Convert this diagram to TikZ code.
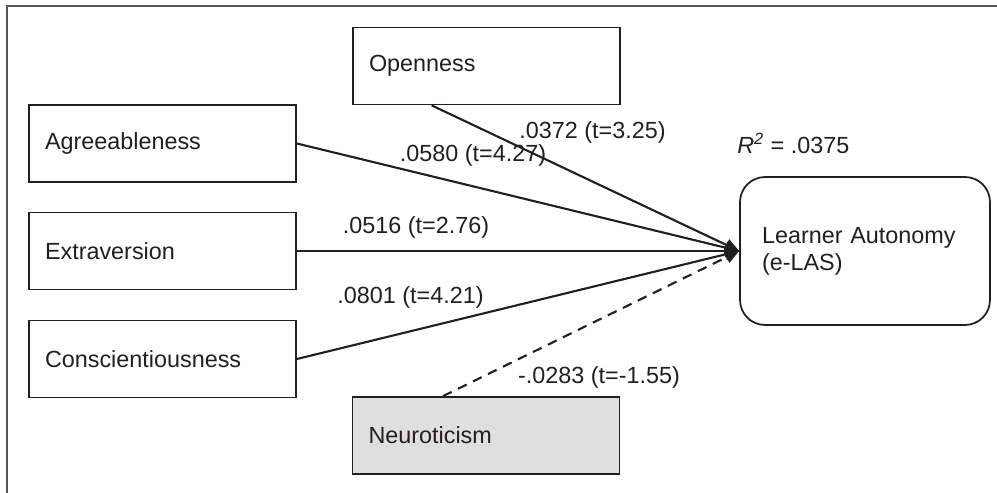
\documentclass[tikz,border=0pt]{standalone}
\usepackage{fontspec}
\setmainfont{Liberation Sans}
\usepackage{tikz}
\usetikzlibrary{arrows.meta, calc}
\definecolor{encre}{HTML}{231F20}
\definecolor{bord}{HTML}{555555}
\definecolor{grisclair}{HTML}{E0DFDF}
\tikzset{
  trait/.style={rectangle, draw=encre, line width=1pt, fill=white, text=encre,
    font=\fontsize{13.3}{15.3}\selectfont, minimum width=5.34cm,
    minimum height=1.54cm, text width=4.7cm, align=left, inner xsep=0.32cm},
  traitgris/.style={trait, fill=grisclair},
  cible/.style={trait, rounded corners=0.5cm, minimum width=5cm,
    minimum height=2.96cm, text width=4.12cm, inner xsep=0.44cm},
  fleche/.style={-{Triangle[length=8pt, width=7pt]}, line width=1.2pt, color=encre},
  flechenonsig/.style={fleche, dash pattern=on 5.5pt off 4pt},
  etiquette/.style={font=\fontsize{13.3}{15.3}\selectfont, text=encre, inner sep=0pt},
  bordure/.style={line width=1.2pt, color=bord}
}

\begin{document}
\begin{tikzpicture}[x=0.02cm, y=-0.02cm]
    \useasboundingbox (0,0) rectangle (997,493);
    % Cadre
    \draw[bordure] (7,493) -- (7,6) -- (997,6);

    % Traits de personnalite
    \node[trait]     (open)  at (486.5, 66)    {Openness};
    \node[trait]     (agree) at (162.5, 143.5) {Agreeableness};
    \node[trait]     (extra) at (162.5, 251)   {Extraversion};
    \node[trait]     (consc) at (162.5, 359)   {Conscientiousness};
    \node[traitgris] (neuro) at (486, 435.5)   {Neuroticism};

    % Variable dependante
    \node[cible] (las) at (865, 251) {Learner Autonomy\\(e-LAS)};
    \node[etiquette, anchor=west] (r2) at (737, 143) {\textit{R}\textsuperscript{\textit{2}} = .0375};

    % Chemins
    \draw[fleche] ($(open.south west)!0.296!(open.south east)$) -- (las.west);
    \draw[fleche] (agree.east) -- (las.west);
    \draw[fleche] (extra.east) -- (las.west);
    \draw[fleche] (consc.east) -- (las.west);
    \draw[flechenonsig] ($(neuro.north west)!0.34!(neuro.north east)$) -- (las.west);

    % Coefficients
    \node[etiquette] (lopen)  at (592.5, 132) {.0372 (t=3.25)};
    \node[etiquette] (lagree) at (473, 155)   {.0580 (t=4.27)};
    \node[etiquette] (lextra) at (416, 227)   {.0516 (t=2.76)};
    \node[etiquette] (lconsc) at (410.5, 297) {.0801 (t=4.21)};
    \node[etiquette] (lneuro) at (599, 377)   {-.0283 (t=-1.55)};
  \end{tikzpicture}
\end{document}
